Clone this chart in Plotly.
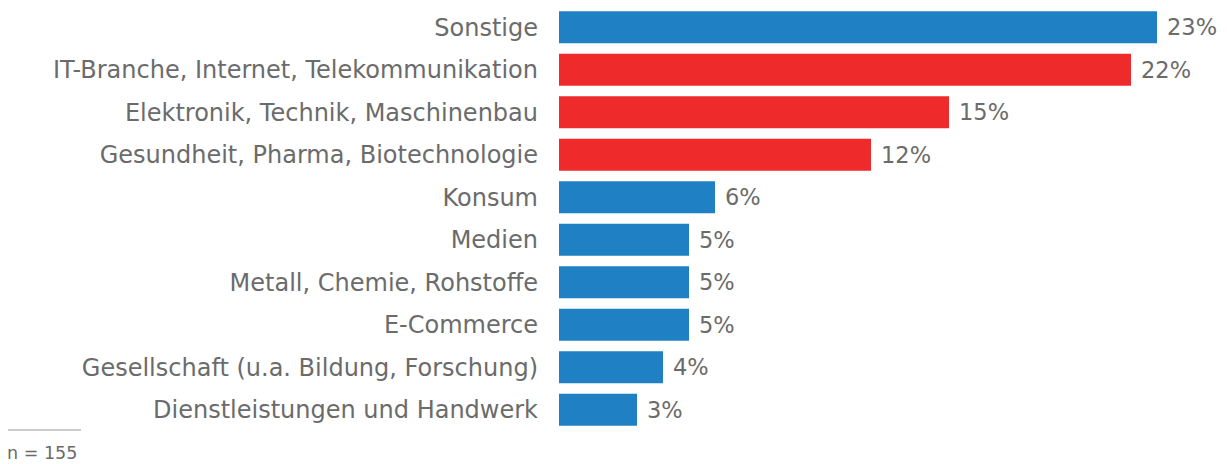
import plotly.graph_objects as go

categories = ["Sonstige", "IT-Branche, Internet, Telekommunikation", "Elektronik, Technik, Maschinenbau",
              "Gesundheit, Pharma, Biotechnologie", "Konsum", "Medien", "Metall, Chemie, Rohstoffe",
              "E-Commerce", "Gesellschaft (u.a. Bildung, Forschung)", "Dienstleistungen und Handwerk"]
values = [23, 22, 15, 12, 6, 5, 5, 5, 4, 3]
highlight = [False, True, True, True, False, False, False, False, False, False]
note = "n = 155"

BLUE = "#1f80c4"
RED = "#ee2a2b"
GRAY = "#6b6b6b"
FONT = "DejaVu Sans, sans-serif"

colors = [RED if h else BLUE for h in highlight]

fig = go.Figure(go.Bar(
    y=categories, x=values, orientation="h", marker_color=colors, marker_line_width=0,
    hoverinfo="skip"
))

for c, v in zip(categories, values):
    fig.add_annotation(x=v, y=c, text=f"{v}%", showarrow=False, xanchor="left", xshift=8,
                       font=dict(family=FONT, size=22.5, color=GRAY))

fig.add_shape(type="line", xref="paper", yref="paper", x0=-551/650, x1=-478/650,
              y0=1/425, y1=1/425, line=dict(color="#999999", width=1))
fig.add_annotation(xref="paper", yref="paper", x=-554/650, y=-22/425, text=note, showarrow=False,
                   xanchor="left", yanchor="middle", font=dict(family=FONT, size=17.5, color=GRAY))

fig.update_layout(
    width=1227, height=464,
    margin=dict(l=559, r=18, t=6, b=33),
    plot_bgcolor="white", paper_bgcolor="white",
    bargap=0.247, showlegend=False,
    font=dict(family=FONT, size=24, color=GRAY),
    xaxis=dict(range=[0, 25], visible=False, fixedrange=True),
    yaxis=dict(autorange="reversed", showgrid=False, showline=False, ticks="", fixedrange=True,
               ticklabelstandoff=20, tickfont=dict(family=FONT, size=24, color=GRAY)),
)

fig.write_html("out.html", config={"displayModeBar": False, "staticPlot": True},
               post_script="document.body.style.margin='0';document.body.style.padding='0';")
